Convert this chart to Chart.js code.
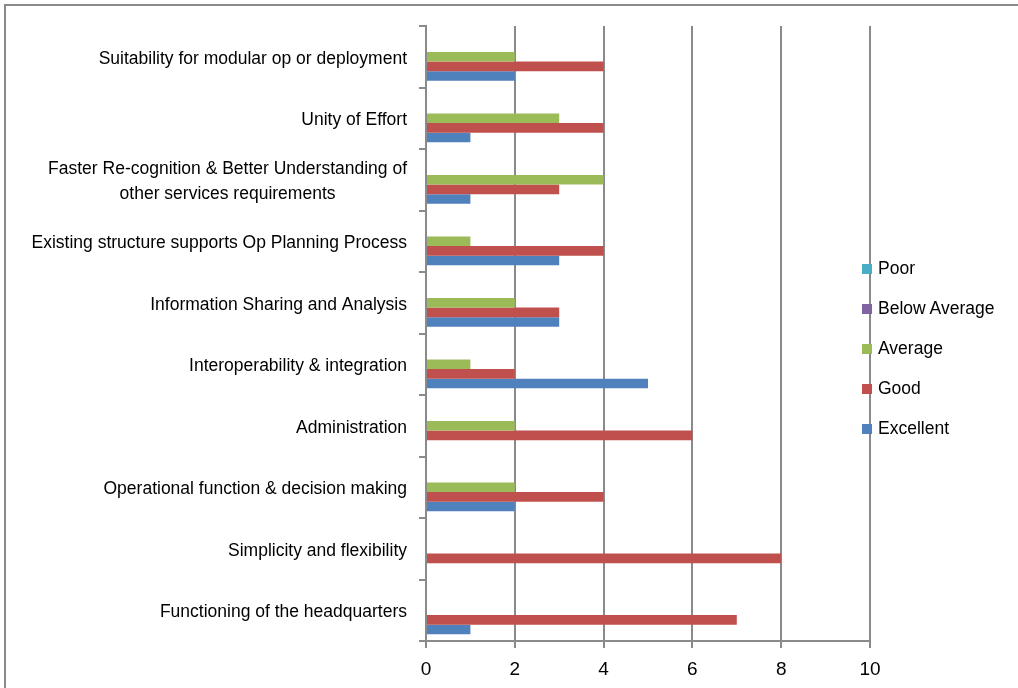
<!DOCTYPE html>
<html>
<head>
<meta charset="utf-8">
<script src="https://cdn.jsdelivr.net/npm/chart.js@4.4.1/dist/chart.umd.min.js"></script>
<style>
  html, body { margin: 0; padding: 0; background: #fff; }
  #wrap { position: relative; width: 1018px; height: 688px; overflow: hidden; }
  #frame { position: absolute; left: 4px; top: 4px; width: 1100px; height: 760px;
           border: 2px solid #8a8a8a; box-sizing: border-box; pointer-events: none; }
  canvas { position: absolute; left: 0; top: 0; }
  #legend { position: absolute; left: 862px; top: 258px; font-family: "Liberation Sans", Arial, sans-serif;
            font-size: 17.5px; color: #000; }
  .item { height: 40px; display: flex; align-items: flex-start; }
  .sw { width: 10px; height: 10px; margin-top: 6px; margin-right: 6px; }
  .lab { line-height: 20px; }
</style>
</head>
<body>
<div id="wrap">
  <canvas id="c" width="1018" height="688"></canvas>
  <div id="frame"></div>
  <div id="legend"></div>
</div>
<script>
const FONT = '"Liberation Sans", Arial, sans-serif';

const categories = [
  'Suitability for modular op or deployment',
  'Unity of Effort',
  ['Faster Re-cognition & Better Understanding of', 'other services requirements'],
  'Existing structure supports Op Planning Process',
  'Information Sharing and Analysis',
  'Interoperability & integration',
  'Administration',
  'Operational function & decision making',
  'Simplicity and flexibility',
  'Functioning of the headquarters'
];

const poor         = [0, 0, 0, 0, 0, 0, 0, 0, 0, 0];
const belowAverage = [0, 0, 0, 0, 0, 0, 0, 0, 0, 0];
const average      = [2, 3, 4, 1, 2, 1, 2, 2, 0, 0];
const good         = [4, 4, 3, 4, 3, 2, 6, 4, 8, 7];
const excellent    = [2, 1, 1, 3, 3, 5, 0, 2, 0, 1];

const xTicks = [0, 2, 4, 6, 8, 10];

const series = [
  { label: 'Poor',          data: poor,         color: '#4BACC6' },
  { label: 'Below Average', data: belowAverage, color: '#8064A2' },
  { label: 'Average',       data: average,      color: '#9BBB59' },
  { label: 'Good',          data: good,         color: '#C0504D' },
  { label: 'Excellent',     data: excellent,    color: '#4F81BD' }
];

const AXIS = '#8a8a8a';

// y-axis labels: right-aligned block, each line centred inside it
const yLabelPlugin = {
  id: 'yLabels',
  afterDraw(chart) {
    const scale = chart.scales.y;
    const ctx = chart.ctx;
    ctx.save();
    ctx.font = '17.5px ' + FONT;
    ctx.fillStyle = '#000';
    ctx.textBaseline = 'middle';
    ctx.textAlign = 'center';
    const right = scale.right - 19;
    const lineH = 25;
    categories.forEach((lab, i) => {
      const lines = Array.isArray(lab) ? lab : [lab];
      const w = Math.max(...lines.map(l => ctx.measureText(l).width));
      const cx = right - w / 2;
      const cy = scale.getPixelForTick(i) + 2;
      const y0 = cy - (lines.length - 1) * lineH / 2;
      lines.forEach((l, k) => ctx.fillText(l, cx, y0 + k * lineH));
    });
    ctx.restore();
  }
};

const chart = new Chart(document.getElementById('c'), {
  type: 'bar',
  data: {
    labels: categories,
    datasets: series.map(s => ({
      label: s.label,
      data: s.data,
      backgroundColor: s.color,
      borderWidth: 0,
      categoryPercentage: 0.78,
      barPercentage: 1.0
    }))
  },
  options: {
    indexAxis: 'y',
    responsive: false,
    animation: false,
    devicePixelRatio: 1,
    layout: { padding: { top: 26, right: 148, left: 0, bottom: 0 } },
    plugins: { legend: { display: false }, tooltip: { enabled: false } },
    scales: {
      x: {
        min: 0, max: 10,
        afterBuildTicks(scale) { scale.ticks = xTicks.map(v => ({ value: v })); },
        afterFit(scale) { scale.height = 47; },
        grid: { color: AXIS, lineWidth: 2, tickLength: 7, drawTicks: true },
        border: { display: true, color: AXIS, width: 2 },
        ticks: { color: '#000', font: { family: FONT, size: 19 }, padding: 10, maxRotation: 0 }
      },
      y: {
        offset: true,
        afterFit(scale) { scale.width = 426; },
        grid: { offset: true, drawOnChartArea: false, drawTicks: true, tickLength: 7, color: AXIS, lineWidth: 2 },
        border: { display: true, color: AXIS, width: 2 },
        ticks: { display: false }
      }
    }
  },
  plugins: [yLabelPlugin]
});

// legend built from the same series
const legend = document.getElementById('legend');
series.forEach(s => {
  const it = document.createElement('div');
  it.className = 'item';
  const sw = document.createElement('div');
  sw.className = 'sw';
  sw.style.background = s.color;
  const lb = document.createElement('div');
  lb.className = 'lab';
  lb.textContent = s.label;
  it.appendChild(sw); it.appendChild(lb);
  legend.appendChild(it);
});
</script>
</body>
</html>
